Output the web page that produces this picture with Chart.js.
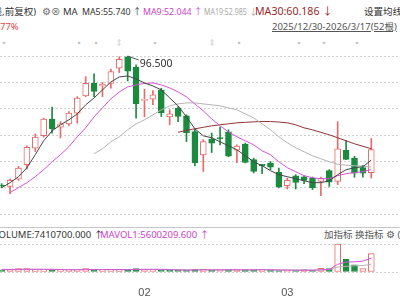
<!DOCTYPE html>
<html>
<head>
<meta charset="utf-8">
<script src="https://cdn.jsdelivr.net/npm/chart.js@4/dist/chart.umd.min.js"></script>
<style>
  body { margin: 0; width: 400px; height: 300px; overflow: hidden; background: #fff;
         font-family: "Noto Sans", "Noto Sans CJK SC", sans-serif; font-size: 9.5px; color: #333; }
  .t { position: absolute; white-space: nowrap; line-height: 14px; }
  canvas { position: absolute; left: 0; top: 0; }
  .sep { position: absolute; left: 0; top: 227px; width: 400px; border-top: 1px solid #c8c8c8; }
  .mk { position: absolute; top: 37px; font-size: 8px; color: #c4c4c4; }
</style>
</head>
<body>
<div class="t" style="right:364px;top:5px">(日线,前复权)</div>
<div class="t" style="left:42px;top:5px;color:#666">⚙⊗</div>
<div class="t" style="left:63px;top:5px">MA</div>
<div class="t" style="left:82px;top:5px;font-size:8.8px">MA5:55.740 ↑</div>
<div class="t" style="left:143px;top:5px;font-size:8.8px;color:#cc3fcc">MA9:52.044 ↑</div>
<div class="t" style="left:204px;top:5px;font-size:8.8px;color:#a8a8a8;transform:scaleX(0.8);transform-origin:left">MA19:52.985</div>
<div class="t" style="left:249px;top:5px;font-size:8.8px;color:#a8a8a8">↓</div>
<div class="t" style="left:255px;top:4px;font-size:10.6px;color:#9a2a2a">MA30:60.186 ↓</div>
<div class="t" style="left:364px;top:5px">设置均线</div>
<div class="t" style="left:0;top:20px;color:#e04848">77%</div>
<div class="t" style="left:272px;top:20px;color:#555;text-decoration:underline">2025/12/30-2026/3/17(52根)</div>

<div class="mk" style="left:0px">▪</div>
<div class="mk" style="left:75px">▪</div>
<div class="mk" style="left:92px">▪</div>
<div class="mk" style="left:117px">‡</div>
<div class="mk" style="left:151px">▪</div>
<div class="mk" style="left:210px">‡</div>
<div class="mk" style="left:235px">▪</div>
<div class="mk" style="left:295px">▪</div>
<div class="mk" style="left:320px">▪</div>
<div class="mk" style="left:353px">▪</div>

<div class="sep"></div>
<div class="t" style="left:-7px;top:228px">VOLUME:7410700.000 ↑</div>
<div class="t" style="left:100px;top:228px;color:#cc3fcc">MAVOL1:5600209.600 ↑</div>
<div class="t" style="left:324px;top:228px;color:#555">加指标 换指标 ⚙ (</div>

<canvas id="main" width="400" height="300"></canvas>
<canvas id="vol" width="400" height="300"></canvas>

<script>
// visible bars, oldest first (price)
const openP  = [45.9, 45.45, 48.3, 53.9, 60.4, 65.3, 71.8, 68.65, 69.9, 74.1, 80.9, 85.8, 84.8, 85.8, 91.7, 96.2, 92.1, 79.1, 79.6, 83.2, 72.6, 76.1, 73.1, 66.9, 57.8, 64.0, 64.6, 66.8, 59.65, 62.0, 55.9, 54.1, 54.6, 50.9, 45.7, 49.6, 49.2, 48.65, 47.4, 51.6, 47.4, 59.6, 56.5, 52.8, 50.8];
const highP  = [46.5, 48.3, 53.3, 61.3, 66.0, 72.2, 76.5, 70.8, 74.7, 80.6, 88.4, 89.5, 86.2, 91.4, 96.2, 96.5, 93.0, 83.5, 83.0, 83.9, 75.4, 76.7, 73.45, 67.9, 63.7, 66.3, 68.65, 67.6, 61.7, 62.4, 56.5, 54.1, 55.2, 52.6, 48.7, 50.0, 49.6, 49.1, 49.1, 52.0, 70.8, 63.5, 57.2, 53.7, 64.2];
const lowP   = [44.9, 42.6, 47.8, 52.2, 59.1, 64.7, 66.3, 64.4, 69.2, 70.2, 80.6, 80.6, 80.6, 83.9, 90.0, 86.7, 72.2, 72.7, 77.4, 72.8, 69.5, 70.8, 63.0, 53.5, 51.3, 58.7, 61.7, 57.05, 54.7, 54.6, 50.7, 50.4, 52.0, 44.8, 44.4, 44.4, 46.5, 44.2, 41.8, 45.4, 46.1, 55.9, 49.0, 49.0, 48.7];
const closeP = [45.6, 47.8, 52.6, 60.7, 64.7, 71.8, 68.0, 69.9, 74.1, 80.0, 85.8, 82.6, 85.4, 90.4, 95.2, 90.6, 77.75, 79.5, 81.3, 74.35, 73.85, 72.8, 66.5, 54.7, 63.0, 62.4, 64.1, 57.3, 61.2, 54.8, 51.3, 53.6, 53.0, 45.2, 47.8, 47.0, 47.8, 44.9, 48.6, 47.1, 60.1, 56.0, 50.6, 50.6, 59.9];

const ma5  = [44.94, 46.89, 49.23, 52.75, 57.83, 63.30, 67.20, 69.55, 71.5, 73.84, 77.36, 80.09, 83.22, 86.34, 88.30, 88.69, 87.52, 85.95, 84.78, 83.22, 80.09, 76.97, 72.67, 67.98, 65.25, 64.47, 62.91, 61.34, 59.78, 57.44, 55.09, 53.53, 51.58, 50.02, 49.23, 48.45, 47.67, 46.89, 46.89, 47.67, 50.02, 51.97, 52.75, 53.14, 55.74];
const ma9  = [null, 42.98, 44.94, 46.89, 49.23, 51.97, 55.09, 57.83, 60.95, 64.86, 68.37, 72.67, 76.19, 79.70, 82.44, 84.39, 85.17, 85.76, 85.95, 85.17, 84.0, 82.44, 80.48, 77.75, 75.02, 71.89, 69.16, 66.81, 64.86, 63.30, 61.73, 59.39, 57.83, 55.09, 52.75, 51.19, 49.62, 48.84, 48.45, 48.45, 49.62, 50.41, 50.80, 51.19, 52.044];
const ma19 = [null, null, null, null, null, null, null, null, null, null, null, 58.22, 60.17, 62.91, 64.86, 67.59, 69.94, 71.5, 73.45, 75.41, 76.97, 77.75, 78.14, 78.14, 77.75, 77.36, 76.97, 76.19, 75.41, 73.84, 72.28, 69.94, 67.59, 64.86, 62.52, 60.56, 59.0, 57.44, 56.27, 55.09, 54.12, 53.73, 53.53, 53.34, 52.985];
const ma30 = [null, null, null, null, null, null, null, null, null, null, null, null, null, null, null, null, null, null, null, null, null, 66.62, 67.40, 67.98, 68.57, 69.16, 69.55, 69.94, 70.33, 70.52, 70.72, 70.84, 70.84, 70.64, 70.33, 69.55, 68.37, 67.59, 66.62, 65.64, 64.47, 63.30, 62.12, 61.15, 60.186];

const volume = [680000, 980000, 1390000, 1390000, 890000, 890000, 890000, 890000, 890000, 890000, 1390000, 890000, 890000, 890000, 890000, 1100000, 1390000, 1190000, 890000, 680000, 680000, 680000, 680000, 1100000, 1100000, 680000, 680000, 980000, 980000, 980000, 890000, 890000, 800000, 590000, 680000, 590000, 980000, 680000, 1480000, 1390000, 11270000, 5130000, 2880000, 1390000, 7410700];
const mavol1 = [1050000, 1000000, 1080000, 1150000, 1110000, 1110000, 1090000, 990000, 890000, 890000, 990000, 990000, 990000, 990000, 990000, 930000, 1030000, 1070000, 1090000, 1050000, 970000, 830000, 720000, 800000, 890000, 850000, 850000, 910000, 890000, 850000, 900000, 930000, 910000, 820000, 770000, 710000, 730000, 710000, 880000, 1020000, 3100000, 4050000, 4100000, 4350000, 5600209.6];
const mavol2 = [980000, 980000, 990000, 1000000, 1010000, 1020000, 1030000, 1020000, 1010000, 1000000, 990000, 990000, 980000, 980000, 970000, 970000, 980000, 990000, 990000, 980000, 960000, 940000, 920000, 910000, 900000, 890000, 880000, 870000, 870000, 860000, 860000, 860000, 850000, 840000, 830000, 820000, 820000, 810000, 830000, 900000, 2000000, 2300000, 2500000, 2600000, 3100000];

const priceGrid = [96.5, 86.1875, 75.875, 65.5625, 55.25, 44.9375, 34.625];
const xTickIdx = [17, 34];
const xTickText = ['02', '03'];

const RED = '#e86a6a', GREEN = '#1b8a3f';
const xMin = -0.2, xMax = xMin + 400 / 8.4;

const pts = arr => arr.map((v, i) => ({ x: i, y: v })).filter(p => p.y !== null);
const candleUp = openP.map((o, i) => closeP[i] >= o);
const volUp = closeP.map((c, i) => c >= (i > 0 ? closeP[i - 1] : openP[0]));

const maLine = (label, arr, color) => ({
    type: 'line', label: label, data: pts(arr), borderColor: color, borderWidth: 1,
    pointRadius: 0, tension: 0, order: -1
});

// marks the highest price with a little pointer and its value
const highLabel = {
    id: 'highLabel',
    afterDatasetsDraw(chart) {
        const top = Math.max(...highP);
        const i = highP.indexOf(top);
        const px = chart.scales.x.getPixelForValue(i);
        const py = chart.scales.y.getPixelForValue(top);
        const c = chart.ctx;
        c.save();
        c.strokeStyle = '#555';
        c.lineWidth = 1;
        c.beginPath();
        c.moveTo(px, py);
        c.lineTo(px + 11, py + 4);
        c.stroke();
        c.fillStyle = '#333';
        c.font = '10.5px "Noto Sans", sans-serif';
        c.textBaseline = 'middle';
        c.fillText(top.toFixed(3), px + 12, py + 8);
        c.restore();
    }
};

new Chart(document.getElementById('main').getContext('2d'), {
    type: 'bar',
    data: {
        datasets: [
            maLine('MA5', ma5, '#444444'),
            maLine('MA9', ma9, '#d653d6'),
            maLine('MA19', ma19, '#b4b4b4'),
            maLine('MA30', ma30, '#8e3434'),
            {
                label: 'body',
                data: openP.map((o, i) => ({ x: i, y: [o, closeP[i]] })),
                backgroundColor: candleUp.map(u => u ? '#ffffff' : GREEN),
                borderColor: candleUp.map(u => u ? RED : GREEN),
                borderWidth: 1, borderSkipped: false, barThickness: 6, minBarLength: 1,
                grouped: false, order: 0
            },
            {
                label: 'wick',
                data: lowP.map((l, i) => ({ x: i, y: [l, highP[i]] })),
                backgroundColor: candleUp.map(u => u ? RED : GREEN),
                borderWidth: 0, barThickness: 1, grouped: false, order: 1
            }
        ]
    },
    options: {
        responsive: false,
        animation: false,
        layout: { padding: { top: 56, bottom: 86, left: 0, right: 0 } },
        plugins: { legend: { display: false }, tooltip: { enabled: false } },
        scales: {
            x: { type: 'linear', min: xMin, max: xMax, offset: false, display: false, grid: { offset: false } },
            y: {
                min: priceGrid[priceGrid.length - 1], max: priceGrid[0],
                afterBuildTicks: s => { s.ticks = priceGrid.map(v => ({ value: v })); },
                ticks: { display: false },
                grid: { color: '#cfcfcf', drawTicks: false },
                border: { display: false, dash: [2, 2] }
            }
        }
    },
    plugins: [highLabel]
});

new Chart(document.getElementById('vol').getContext('2d'), {
    type: 'bar',
    data: {
        datasets: [
            { type: 'line', label: 'MAVOL1', data: pts(mavol1), borderColor: '#d653d6', borderWidth: 1, pointRadius: 0, order: -1 },
            { type: 'line', label: 'MAVOL2', data: pts(mavol2), borderColor: '#b4b4b4', borderWidth: 1, pointRadius: 0, order: -1 },
            {
                label: 'volume',
                data: pts(volume),
                backgroundColor: volUp.map(u => u ? '#ffffff' : GREEN),
                borderColor: volUp.map(u => u ? RED : GREEN),
                borderWidth: 1, borderSkipped: false, barThickness: 6, grouped: false, order: 0
            }
        ]
    },
    options: {
        responsive: false,
        animation: false,
        layout: { padding: { top: 244, bottom: 0, left: 0, right: 0 } },
        plugins: { legend: { display: false }, tooltip: { enabled: false } },
        scales: {
            x: {
                type: 'linear', min: xMin, max: xMax, offset: false,
                afterBuildTicks: s => { s.ticks = xTickIdx.map(v => ({ value: v })); },
                ticks: {
                    callback: v => xTickText[xTickIdx.indexOf(v)],
                    color: '#555', font: { size: 11, lineHeight: 1 }, padding: 7,
                    maxRotation: 0, autoSkip: false
                },
                grid: { display: false, offset: false },
                border: { display: false }
            },
            y: {
                min: 0, max: Math.max(...volume),
                afterBuildTicks: s => { s.ticks = [{ value: 0 }, { value: Math.max(...volume) }]; },
                ticks: { display: false },
                grid: { color: '#cfcfcf', drawTicks: false },
                border: { display: false, dash: [2, 2] }
            }
        }
    }
});
</script>
</body>
</html>
